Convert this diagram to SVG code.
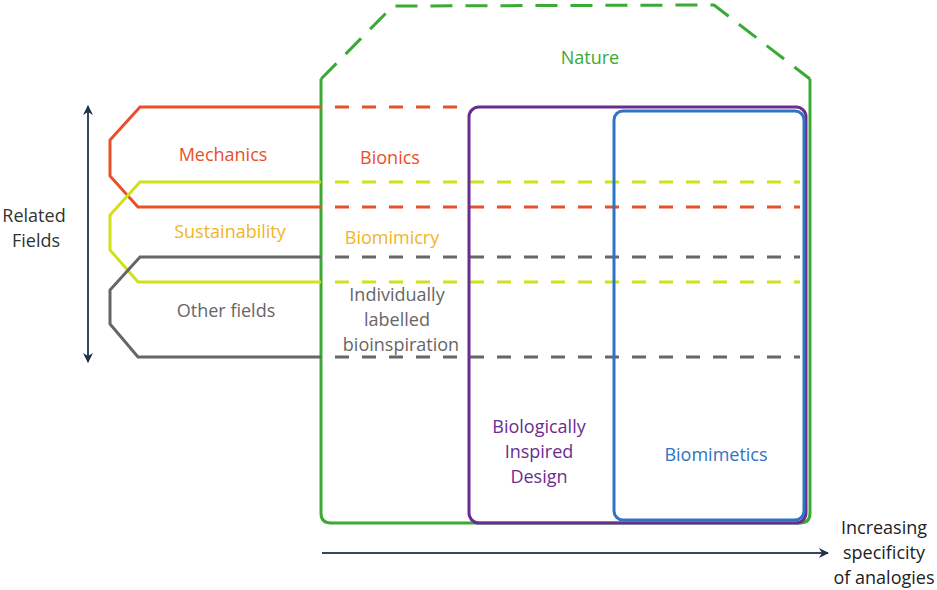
<svg xmlns="http://www.w3.org/2000/svg" width="937" height="590" viewBox="0 0 937 590">
<style>
text{font-family:"Open Sans","Noto Sans","Liberation Sans",sans-serif;font-size:18px;text-anchor:middle}
.ln{fill:none;stroke-width:3}
.dash{stroke-dasharray:14 13}
.o{stroke:#e8502a}.y{stroke:#d2e01c}.g{stroke:#666}
</style>
<defs>
<marker id="ah" viewBox="0 0 10 10" refX="9" refY="5" markerWidth="10" markerHeight="10" markerUnits="userSpaceOnUse" orient="auto-start-reverse">
<path d="M0,0 L10,5 L0,10 L3,5 Z" fill="#1f3347"/>
</marker>
</defs>
<rect width="937" height="590" fill="#fff"/>
<g id="connectors">
<line x1="88" y1="106" x2="88" y2="362" stroke="#34495e" stroke-width="2" marker-start="url(#ah)" marker-end="url(#ah)"/>
<line x1="322" y1="553" x2="828" y2="553" stroke="#34495e" stroke-width="2" marker-end="url(#ah)"/>
</g>
<g id="nature">
<path class="ln" d="M321,79 L393,6 L714,5 L810,79" stroke="#3aaa35" stroke-dasharray="22 13" stroke-width="3"/>
<path class="ln" d="M321,79 L321,513 Q321,523 331,523 L800,523 Q810,523 810,513 L810,79" stroke="#3aaa35"/>
<text x="590" y="64" fill="#3aaa35">Nature</text>
</g>
<g id="mechanics">
<path class="ln o" d="M321,107 L140,107 L110,140 L110,176 L138,207 L321,207"/>
<line class="ln o dash" x1="335" y1="107" x2="470" y2="107"/>
<line class="ln o dash" x1="335" y1="207" x2="800" y2="207"/>
<text x="223" y="161" fill="#e8502a">Mechanics</text>
<text x="390" y="164" fill="#e8502a">Bionics</text>
</g>
<g id="sustainability">
<path class="ln y" d="M321,182 L140,182 L110,215 L110,250 L138,282 L321,282"/>
<line class="ln y dash" x1="335" y1="182" x2="800" y2="182"/>
<line class="ln y dash" x1="335" y1="282" x2="800" y2="282"/>
<text x="230" y="238" fill="#f2b51f">Sustainability</text>
<text x="392" y="244" fill="#f2b51f">Biomimicry</text>
</g>
<g id="other">
<path class="ln g" d="M321,257 L140,257 L110,290 L110,324 L138,357 L321,357"/>
<line class="ln g dash" x1="335" y1="257" x2="800" y2="257"/>
<line class="ln g dash" x1="335" y1="357" x2="800" y2="357"/>
<text x="226" y="317" fill="#666">Other fields</text>
<text x="397" y="301" fill="#666">Individually</text>
<text x="397" y="326" fill="#666">labelled</text>
<text x="401" y="351" fill="#666">bioinspiration</text>
</g>
<g id="bid">
<rect class="ln" x="469" y="107" width="337" height="416" rx="10" stroke="#6b2c91"/>
<text x="539" y="433" fill="#6b2c91">Biologically</text>
<text x="539" y="458" fill="#6b2c91">Inspired</text>
<text x="539" y="483" fill="#6b2c91">Design</text>
</g>
<g id="biomimetics">
<rect class="ln" x="614" y="111" width="190" height="409" rx="9" stroke="#2d74c4"/>
<text x="716" y="461" fill="#2d74c4">Biomimetics</text>
</g>
<g id="labels">
<text x="34" y="222" fill="#333">Related</text>
<text x="36" y="247" fill="#333">Fields</text>
<text x="884" y="534" fill="#222">Increasing</text>
<text x="884" y="559" fill="#222">specificity</text>
<text x="884" y="584" fill="#222">of analogies</text>
</g>
</svg>
